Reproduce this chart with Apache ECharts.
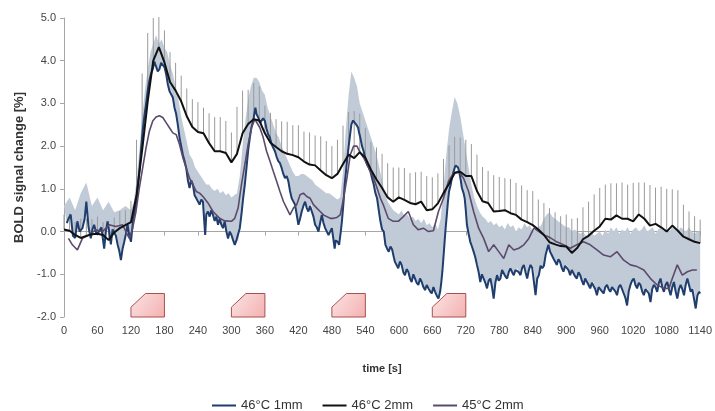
<!DOCTYPE html>
<html>
<head>
<meta charset="utf-8">
<title>BOLD signal change</title>
<script src="https://cdn.jsdelivr.net/npm/echarts@6/dist/echarts.min.js"></script>
<style>
  html, body { margin: 0; padding: 0; background: #fff; }
  #chart { width: 715px; height: 411px; }
</style>
</head>
<body>
<div id="chart"></div>
<script>
// 46°C 1mm（噪声较大的蓝线）
const blueTime = [5, 8, 12, 16, 20, 24, 28, 33, 37, 40, 44, 48, 51, 54, 58, 63, 67, 72, 75, 78, 81, 84, 87, 90, 93, 96, 99, 102, 105, 108, 111, 114, 117, 120, 124, 129, 132, 135, 138, 141, 144, 147, 150, 153, 156, 159, 162, 165, 168, 171, 174, 177, 180, 183, 186, 189, 192, 195, 198, 201, 204, 207, 210, 213, 216, 219, 222, 225, 228, 231, 234, 237, 240, 243, 246, 249, 251, 253, 255, 258, 261, 264, 267, 270, 273, 276, 279, 282, 285, 288, 291, 294, 297, 300, 303, 306, 309, 312, 315, 318, 321, 324, 327, 330, 333, 336, 339, 341, 343, 345, 348, 351, 354, 357, 360, 363, 366, 369, 372, 375, 378, 381, 384, 387, 390, 393, 396, 399, 402, 405, 408, 411, 414, 417, 420, 423, 426, 429, 432, 435, 438, 441, 444, 447, 450, 453, 456, 459, 462, 465, 468, 471, 474, 477, 480, 483, 485, 487, 489, 491, 493, 496, 498, 501, 503, 506, 509, 512, 515, 518, 521, 524, 527, 529, 531, 534, 537, 540, 543, 546, 549, 552, 555, 558, 561, 564, 567, 570, 573, 576, 579, 582, 585, 588, 591, 593, 596, 599, 602, 605, 608, 611, 614, 617, 620, 623, 626, 629, 632, 635, 638, 641, 644, 647, 650, 653, 656, 659, 662, 665, 668, 671, 674, 676, 678, 680, 682, 684, 686, 688, 690, 693, 695, 698, 700, 702, 704, 706, 708, 711, 713, 716, 718, 720, 722, 725, 728, 731, 734, 737, 740, 743, 746, 749, 752, 755, 758, 761, 764, 767, 770, 773, 776, 779, 782, 785, 788, 791, 794, 797, 800, 803, 806, 809, 812, 815, 818, 821, 824, 827, 830, 833, 836, 839, 842, 845, 848, 851, 854, 857, 860, 863, 866, 868, 871, 874, 877, 880, 883, 886, 889, 892, 895, 898, 901, 904, 907, 910, 913, 916, 919, 922, 925, 928, 931, 934, 937, 940, 943, 946, 949, 952, 955, 958, 961, 964, 967, 970, 973, 976, 979, 982, 985, 988, 991, 994, 997, 1000, 1003, 1006, 1009, 1012, 1015, 1018, 1021, 1024, 1027, 1030, 1033, 1036, 1039, 1042, 1045, 1048, 1051, 1054, 1057, 1060, 1063, 1066, 1069, 1072, 1075, 1078, 1081, 1084, 1087, 1090, 1093, 1096, 1099, 1102, 1105, 1108, 1111, 1114, 1117, 1120, 1123, 1126, 1129, 1132, 1135, 1138, 1140]
const blueVal = [0.2, 0.3, 0.4, -0.1, -0.15, 0.24, 0.0, 0.08, 0.3, 0.7, 0.1, -0.16, 0.05, 0.16, -0.05, 0.0, 0.1, -0.4, 0.0, 0.24, 0.0, -0.3, 0.05, -0.02, -0.1, -0.3, -0.45, -0.67, -0.4, -0.24, -0.05, 0.16, -0.1, -0.24, 0.3, 0.63, 1.0, 1.41, 1.9, 2.35, 2.7, 2.98, 3.3, 3.53, 3.7, 3.8, 3.98, 3.96, 3.75, 3.8, 3.95, 3.92, 3.85, 3.69, 3.45, 3.29, 3.3, 3.14, 2.9, 2.75, 2.5, 2.2, 2.0, 1.8, 1.65, 1.49, 1.2, 1.02, 1.2, 1.1, 0.85, 0.78, 0.75, 0.63, 0.75, 0.7, 0.3, -0.08, 0.4, 0.47, 0.35, 0.5, 0.39, 0.25, 0.35, 0.16, 0.3, 0.16, 0.08, 0.24, 0.0, -0.16, 0.0, -0.08, -0.2, -0.31, -0.2, -0.24, 0.08, 0.4, 0.78, 1.1, 1.49, 1.9, 2.2, 2.45, 2.59, 2.75, 2.9, 2.75, 2.67, 2.55, 2.51, 2.65, 2.59, 2.4, 2.27, 2.2, 2.04, 2.0, 1.88, 1.75, 1.65, 1.6, 1.49, 1.35, 1.25, 1.3, 1.18, 0.95, 0.78, 0.75, 0.63, 0.4, 0.16, 0.3, 0.47, 0.6, 0.7, 0.55, 0.47, 0.6, 0.63, 0.35, 0.16, 0.1, 0.0, 0.2, 0.39, 0.2, 0.08, 0.0, -0.08, 0.0, 0.08, -0.2, -0.4, -0.2, -0.16, -0.25, -0.31, 0.0, 0.24, 0.7, 1.1, 1.5, 1.88, 2.2, 2.51, 2.6, 2.59, 2.5, 2.43, 2.3, 2.2, 2.0, 1.88, 1.7, 1.57, 1.5, 1.41, 1.25, 1.1, 0.9, 0.78, 0.5, 0.24, 0.05, 0.0, -0.31, -0.4, -0.47, -0.35, -0.42, -0.6, -0.71, -0.75, -0.86, -0.7, -0.78, -0.95, -1.02, -0.88, -0.94, -1.1, -1.18, -1.0, -1.1, -1.2, -1.25, -1.1, -1.18, -1.3, -1.37, -1.25, -1.33, -1.4, -1.45, -1.3, -1.41, -1.5, -1.57, -1.41, -1.2, -0.94, -0.6, -0.24, 0.1, 0.39, 0.7, 0.94, 1.1, 1.25, 1.4, 1.49, 1.55, 1.57, 1.5, 1.41, 1.2, 1.02, 0.9, 0.78, 0.5, 0.16, -0.05, -0.24, -0.35, -0.47, -0.6, -0.78, -0.95, -1.18, -1.0, -1.02, -1.2, -1.33, -1.15, -1.1, -1.3, -1.57, -1.2, -1.02, -1.15, -1.1, -0.9, -0.94, -1.05, -1.1, -0.95, -0.86, -0.95, -1.02, -0.9, -0.86, -0.95, -1.02, -0.85, -0.78, -0.95, -1.1, -0.9, -0.78, -0.85, -0.86, -1.49, -1.1, -1.02, -0.8, -0.86, -0.8, -0.55, -0.4, -0.31, -0.47, -0.55, -0.63, -0.7, -0.78, -0.65, -0.71, -0.85, -0.94, -0.8, -0.78, -0.9, -1.02, -0.9, -0.94, -1.05, -1.1, -0.95, -1.02, -1.15, -1.25, -1.1, -1.1, -1.25, -1.33, -1.2, -1.18, -1.35, -1.49, -1.3, -1.33, -1.4, -1.45, -1.3, -1.25, -1.35, -1.41, -1.3, -1.33, -1.4, -1.49, -1.3, -1.25, -1.35, -1.45, -1.55, -1.73, -1.4, -1.25, -1.15, -1.1, -1.25, -1.33, -1.2, -1.25, -1.4, -1.49, -1.35, -1.33, -1.45, -1.65, -1.35, -1.25, -1.3, -1.41, -1.2, -1.1, -1.3, -1.41, -1.25, -1.18, -1.35, -1.49, -1.3, -1.18, -1.4, -1.57, -1.35, -1.25, -1.35, -1.49, -1.25, -1.1, -1.25, -1.41, -1.35, -1.33, -1.8, -1.5, -1.41, -1.45]

// 46°C 1mm 误差带的上沿
const bandTime = [0, 10, 20, 30, 40, 50, 60, 70, 80, 90, 100, 110, 120, 125, 130, 135, 140, 145, 150, 155, 160, 165, 170, 175, 180, 185, 190, 195, 200, 205, 210, 215, 220, 225, 230, 235, 240, 245, 250, 255, 260, 265, 270, 275, 280, 285, 290, 295, 300, 305, 310, 315, 320, 325, 330, 335, 340, 345, 350, 355, 360, 365, 370, 375, 380, 385, 390, 395, 400, 405, 410, 415, 420, 425, 430, 435, 440, 445, 450, 455, 460, 465, 470, 475, 480, 485, 490, 495, 500, 505, 510, 515, 520, 525, 530, 535, 540, 545, 550, 555, 560, 565, 570, 575, 580, 585, 590, 595, 600, 605, 610, 615, 620, 625, 630, 635, 640, 645, 650, 655, 660, 665, 670, 675, 680, 685, 690, 695, 700, 705, 710, 715, 720, 725, 730, 735, 740, 745, 750, 755, 760, 765, 770, 775, 780, 785, 790, 795, 800, 805, 810, 815, 820, 825, 830, 835, 840, 845, 850, 855, 860, 865, 870, 875, 880, 885, 890, 895, 900, 905, 910, 915, 920, 925, 930, 935, 940, 945, 950, 955, 960, 965, 970, 975, 980, 985, 990, 995, 1000, 1005, 1010, 1015, 1020, 1025, 1030, 1035, 1040, 1045, 1050, 1055, 1060, 1065, 1070, 1075, 1080, 1085, 1090, 1095, 1100, 1105, 1110, 1115, 1120, 1125, 1130, 1135, 1140]
const bandTop = [0.6, 0.8, 0.5, 0.9, 1.15, 0.6, 0.8, 0.5, 0.7, 0.45, 0.5, 0.6, 0.5, 0.7, 1.2, 1.9, 2.7, 3.3, 3.8, 4.2, 4.4, 4.6, 4.4, 4.5, 4.3, 4.2, 3.9, 3.7, 3.4, 3.1, 2.7, 2.4, 2.1, 1.8, 1.7, 1.5, 1.4, 1.3, 1.2, 1.1, 1.1, 1.0, 0.95, 1.0, 0.9, 0.95, 0.85, 0.9, 0.8, 0.85, 0.9, 1.3, 2.0, 2.6, 3.1, 3.4, 3.6, 3.6, 3.5, 3.3, 3.2, 2.9, 2.7, 2.5, 2.3, 2.2, 2.0, 1.85, 1.7, 1.55, 1.4, 1.3, 1.3, 1.35, 1.35, 1.3, 1.25, 1.2, 1.1, 1.05, 1.0, 0.95, 0.9, 0.9, 0.85, 0.8, 0.75, 0.8, 1.4, 2.4, 3.2, 3.75, 3.6, 3.4, 3.0, 2.8, 2.6, 2.4, 2.2, 2.0, 1.8, 1.5, 1.2, 0.9, 0.7, 0.6, 0.5, 0.45, 0.4, 0.5, 0.35, 0.4, 0.3, 0.35, 0.25, 0.3, 0.2, 0.3, 0.15, 0.2, 0.1, 0.2, 0.05, 0.3, 1.0, 1.8, 2.4, 2.8, 3.15, 3.0, 2.7, 2.3, 1.9, 1.5, 1.1, 0.8, 0.6, 0.45, 0.35, 0.3, 0.2, 0.25, 0.15, 0.2, 0.1, 0.15, 0.05, 0.2, 0.1, 0.15, 0.0, 0.1, 0.05, 0.2, 0.1, 0.15, 0.0, 0.05, 0.1, 0.15, 0.3, 0.4, 0.45, 0.35, 0.3, 0.25, 0.2, 0.15, 0.1, 0.1, 0.0, 0.05, 0.0, -0.05, 0.0, -0.1, -0.05, 0.0, -0.1, -0.05, 0.0, -0.1, 0.05, -0.05, 0.1, 0.0, 0.1, -0.05, 0.05, 0.0, 0.1, -0.05, 0.05, 0.1, 0.0, 0.05, 0.15, 0.0, 0.05, 0.1, -0.05, 0.05, 0.1, 0.0, 0.05, 0.0, 0.1, 0.05, 0.0, 0.1, 0.05, 0.0, 0.1, 0.0, -0.05, 0.0, 0.0]

// 46°C 2mm（黑线），每 10 s 一个点，及向上的误差线长度
const blackVal = [0.05, 0.02, -0.08, -0.15, -0.1, -0.06, -0.05, -0.08, -0.2, -0.02, 0.08, 0.15, 0.22, 0.85, 1.9, 3.05, 4.0, 4.32, 3.96, 3.5, 3.3, 3.05, 2.7, 2.45, 2.33, 2.3, 2.07, 1.88, 1.88, 1.84, 1.62, 1.82, 2.3, 2.52, 2.63, 2.6, 2.3, 2.08, 1.98, 1.88, 1.82, 1.79, 1.74, 1.64, 1.57, 1.55, 1.43, 1.32, 1.25, 1.35, 1.58, 1.8, 1.72, 1.86, 1.73, 1.45, 1.22, 1.02, 0.8, 0.7, 0.8, 0.74, 0.67, 0.64, 0.7, 0.5, 0.52, 0.66, 0.9, 1.12, 1.37, 1.4, 1.3, 1.3, 0.95, 0.71, 0.67, 0.47, 0.48, 0.5, 0.43, 0.39, 0.28, 0.22, 0.15, 0.05, -0.08, -0.25, -0.3, -0.34, -0.35, -0.5, -0.38, -0.18, -0.1, 0.02, 0.12, 0.3, 0.28, 0.38, 0.3, 0.3, 0.24, 0.4, 0.3, 0.14, 0.18, 0.1, 0.0, 0.14, 0.02, -0.12, -0.18, -0.24, -0.27]
const blackErr = [0.35, 0.4, 0.3, 0.45, 0.4, 0.35, 0.4, 0.3, 0.45, 0.35, 0.4, 0.35, 0.5, 1.3, 1.8, 1.6, 1.0, 0.7, 0.75, 0.7, 0.65, 0.6, 0.65, 0.65, 0.7, 0.6, 0.7, 0.8, 0.8, 0.75, 0.7, 1.1, 1.0, 0.8, 0.85, 0.8, 0.65, 0.7, 0.65, 0.7, 0.75, 0.7, 0.75, 0.7, 0.75, 0.7, 0.8, 0.8, 0.75, 0.8, 0.9, 1.0, 1.1, 0.9, 0.7, 0.65, 0.75, 0.8, 0.8, 0.8, 0.7, 0.75, 0.7, 0.75, 0.7, 0.8, 0.75, 0.7, 0.8, 0.9, 0.85, 0.8, 0.85, 0.75, 0.85, 0.8, 0.75, 0.85, 0.8, 0.75, 0.8, 0.75, 0.8, 0.75, 0.8, 0.7, 0.75, 0.8, 0.75, 0.7, 0.75, 0.8, 0.7, 0.75, 0.8, 0.85, 0.9, 0.8, 0.85, 0.75, 0.85, 0.8, 0.9, 0.75, 0.85, 0.95, 0.85, 0.95, 1.0, 0.85, 0.95, 0.75, 0.65, 0.6, 0.55]
const blackTime = blackVal.map((_, i) => i * 10)

// 45°C 2mm（紫线）
const purpleTime = [8, 15, 24, 33, 45, 57, 69, 81, 93, 105, 111, 117, 123, 129, 135, 141, 147, 153, 159, 165, 171, 177, 183, 189, 195, 201, 207, 213, 219, 225, 231, 237, 243, 249, 258, 267, 279, 288, 300, 306, 312, 318, 324, 330, 336, 342, 345, 351, 357, 363, 369, 375, 381, 387, 393, 399, 405, 411, 417, 423, 429, 435, 441, 447, 453, 459, 465, 471, 477, 483, 489, 495, 501, 507, 513, 519, 525, 531, 537, 543, 549, 555, 561, 567, 573, 581, 590, 599, 608, 617, 626, 635, 644, 653, 662, 671, 680, 689, 698, 707, 716, 725, 734, 743, 752, 761, 770, 779, 788, 797, 806, 815, 824, 833, 842, 851, 860, 871, 883, 895, 907, 919, 931, 943, 955, 967, 979, 991, 1003, 1015, 1027, 1039, 1051, 1063, 1075, 1084, 1090, 1099, 1108, 1117, 1126, 1134]
const purpleVal = [-0.16, -0.31, -0.43, -0.16, -0.08, 0.04, 0.0, 0.16, 0.12, 0.16, 0.0, -0.16, 0.08, 0.47, 1.02, 1.49, 1.96, 2.35, 2.59, 2.68, 2.71, 2.67, 2.55, 2.43, 2.31, 2.27, 2.04, 1.73, 1.49, 1.25, 1.1, 0.94, 0.9, 0.82, 0.67, 0.47, 0.31, 0.25, 0.24, 0.31, 0.55, 1.1, 1.57, 2.04, 2.43, 2.63, 2.67, 2.43, 2.2, 1.88, 1.65, 1.41, 1.18, 0.94, 0.71, 0.55, 0.39, 0.55, 0.63, 0.86, 0.9, 0.82, 0.78, 0.63, 0.55, 0.47, 0.39, 0.35, 0.31, 0.31, 0.33, 0.39, 0.78, 1.25, 1.8, 2.0, 2.0, 1.84, 1.73, 1.57, 1.41, 1.25, 1.02, 0.78, 0.6, 0.31, 0.24, 0.24, 0.35, 0.47, 0.16, 0.04, 0.08, 0.0, 0.02, 0.47, 0.78, 1.18, 1.37, 1.41, 1.25, 0.94, 0.47, 0.08, -0.16, -0.47, -0.31, -0.47, -0.63, -0.31, -0.43, -0.39, -0.31, -0.16, 0.08, 0.0, -0.08, -0.14, -0.24, -0.31, -0.39, -0.31, -0.24, -0.31, -0.43, -0.55, -0.59, -0.47, -0.67, -0.78, -0.82, -0.9, -1.1, -1.25, -1.33, -1.33, -1.1, -0.78, -1.02, -0.94, -0.9, -0.9]

// 刺激时段（起始时间，持续 60 s）
const stimOnsets = [120, 300, 480, 660]
const stimLength = 60

const xTicks = { min: 0, max: 1140, step: 60 }
const yTicks = { min: -2, max: 5, step: 1 }

const FONT = 'Arial, "Liberation Sans", sans-serif'

function pairs(xs, ys) {
  return xs.map((x, i) => [x, ys[i]])
}

// 误差带：上沿向前，蓝线向后，拼成一个多边形
function renderBand(params, api) {
  const points = []
  bandTime.forEach((t, i) => points.push(api.coord([t, bandTop[i]])))
  for (let i = blueTime.length - 1; i >= 0; i--) {
    points.push(api.coord([blueTime[i], blueVal[i]]))
  }
  return {
    type: 'polygon',
    shape: { points },
    style: { fill: '#c1cbd7' }
  }
}

// 黑线的向上误差线
function renderErrorBar(params, api) {
  const p1 = api.coord([api.value(0), api.value(1)])
  const p2 = api.coord([api.value(0), api.value(2)])
  return {
    type: 'line',
    shape: { x1: p1[0], y1: p1[1], x2: p2[0], y2: p2[1] },
    style: { stroke: '#9a9a9a', lineWidth: 1 }
  }
}

// 刺激标记（梯形）
function renderStim(params, api) {
  const t = api.value(0)
  const pts = [
    [t, -2],
    [t, -1.77],
    [t + 26, -1.45],
    [t + stimLength, -1.45],
    [t + stimLength, -2]
  ].map(p => api.coord(p))
  return {
    type: 'polygon',
    shape: { points: pts },
    style: {
      fill: new echarts.graphic.LinearGradient(0, 0, 1, 1, [
        { offset: 0, color: '#fce4e4' },
        { offset: 1, color: '#f3b0b0' }
      ]),
      stroke: '#a9504f',
      lineWidth: 1
    }
  }
}

const chart = echarts.init(document.getElementById('chart'))

chart.setOption({
  animation: false,
  backgroundColor: '#fff',
  textStyle: { fontFamily: FONT },
  grid: { left: 64, right: 13, top: 18, bottom: 94 },
  legend: {
    data: ['46°C 1mm', '46°C 2mm', '45°C 2mm'],
    icon: 'rect',
    left: 207,
    top: 394,
    itemWidth: 24,
    itemHeight: 2,
    itemGap: 20,
    textStyle: { fontSize: 13, color: '#333', fontFamily: FONT }
  },
  xAxis: {
    type: 'value',
    min: xTicks.min,
    max: xTicks.max,
    interval: xTicks.step,
    name: 'time [s]',
    nameLocation: 'middle',
    nameGap: 46,
    nameTextStyle: { fontWeight: 'bold', fontSize: 11, color: '#333' },
    axisLine: { lineStyle: { color: '#a6a6a6' } },
    axisTick: { inside: false, length: 4, lineStyle: { color: '#a6a6a6' } },
    axisLabel: { fontSize: 11, color: '#444', margin: 8, formatter: v => String(v) },
    splitLine: { show: false }
  },
  yAxis: {
    type: 'value',
    min: yTicks.min,
    max: yTicks.max,
    interval: yTicks.step,
    name: 'BOLD signal change [%]',
    nameLocation: 'middle',
    nameGap: 38,
    nameTextStyle: { fontWeight: 'bold', fontSize: 13, color: '#333' },
    axisLine: { show: true, lineStyle: { color: '#a6a6a6' } },
    axisTick: { show: true, length: 4, lineStyle: { color: '#a6a6a6' } },
    axisLabel: { fontSize: 11, color: '#444', margin: 8, formatter: v => v.toFixed(1) },
    splitLine: { show: false }
  },
  series: [
    {
      type: 'custom',
      name: 'band',
      z: 1,
      silent: true,
      renderItem: renderBand,
      data: [[0, 0]]
    },
    {
      type: 'custom',
      name: 'errors',
      z: 2,
      silent: true,
      renderItem: renderErrorBar,
      encode: { x: 0, y: [1, 2] },
      data: blackTime.map((t, i) => [t, blackVal[i], blackVal[i] + blackErr[i]])
    },
    {
      name: '46°C 1mm',
      type: 'line',
      z: 3,
      symbol: 'none',
      color: '#1f3d6d',
      lineStyle: { width: 2, color: '#1f3d6d' },
      data: pairs(blueTime, blueVal)
    },
    {
      name: '45°C 2mm',
      type: 'line',
      z: 4,
      symbol: 'none',
      color: '#5c4a6c',
      lineStyle: { width: 1.6, color: '#5c4a6c' },
      data: pairs(purpleTime, purpleVal)
    },
    {
      name: '46°C 2mm',
      type: 'line',
      z: 5,
      symbol: 'none',
      color: '#111',
      lineStyle: { width: 2, color: '#111' },
      data: pairs(blackTime, blackVal)
    },
    {
      type: 'custom',
      name: 'stimulus',
      z: 6,
      silent: true,
      renderItem: renderStim,
      data: stimOnsets.map(t => [t, -2])
    }
  ]
})
</script>
</body>
</html>
